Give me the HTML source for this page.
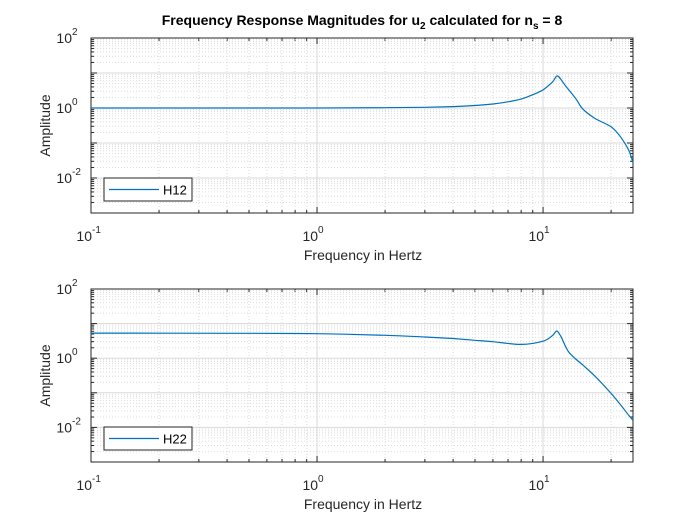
<!DOCTYPE html>
<html><head><meta charset="utf-8"><style>
body{margin:0;background:#fff;width:700px;height:525px;overflow:hidden}
svg{font-family:"Liberation Sans",sans-serif}
</style></head><body>
<svg id="c" width="700" height="525"></svg>
<script>
const freqH12=[0.1,1,2,3,4,5,6,7,8,9,10,11,11.6,12.5,14,15,17,20,22,24,25];
const ampH12=[1.0,1.0,1.02,1.05,1.1,1.18,1.3,1.5,1.8,2.4,3.3,5.5,8.2,4.5,1.8,0.93,0.5,0.29,0.15,0.06,0.027];
const freqH22=[0.1,0.5,1,2,3,4,5,6,8,10,11,11.5,12,13,15,17,20,22,24,25];
const ampH22=[5.3,5.25,5.1,4.6,4.1,3.7,3.3,3.0,2.5,3.1,4.5,6.1,4.2,1.5,0.63,0.3,0.096,0.045,0.022,0.016];
const xTicks=[0.1,1,10];
const xTickLabels=['10','10','10'];
const xTickExp=['-1','0','1'];
const yTicks=[0.01,1,100];
const yTickLabels=['10','10','10'];
const yTickExp=['-2','0','2'];
const NS='http://www.w3.org/2000/svg';
const svg=document.getElementById('c');
function el(t,a,p){const e=document.createElementNS(NS,t);for(const k in a)e.setAttribute(k,a[k]);(p||svg).appendChild(e);return e;}
const L=91,R=633,xmin=0.1,xmax=25;
function xs(v){return L+(Math.log10(v)-Math.log10(xmin))/(Math.log10(xmax)-Math.log10(xmin))*(R-L);}
function smooth(pts){let d='M'+pts[0][0].toFixed(1)+','+pts[0][1].toFixed(1);
  for(let i=0;i<pts.length-1;i++){const p0=pts[Math.max(0,i-1)],p1=pts[i],p2=pts[i+1],p3=pts[Math.min(pts.length-1,i+2)];
    const t=(i+1===pts.length-1||i===0)?0.12:0.16;
    const c1=[p1[0]+(p2[0]-p0[0])*t,p1[1]+(p2[1]-p0[1])*t],c2=[p2[0]-(p3[0]-p1[0])*t,p2[1]-(p3[1]-p1[1])*t];
    d+='C'+c1.map(v=>v.toFixed(1)).join(',')+' '+c2.map(v=>v.toFixed(1)).join(',')+' '+p2[0].toFixed(1)+','+p2[1].toFixed(1);}
  return d;}
function panel(top,bot,fx,fy,name,pname){
  const g=el('g',{});
  
  
  const ys=v=>bot-(Math.log10(v)+3)/5*(bot-top);
  for(let d=-1;d<=1;d++)for(let m=2;m<=9;m++){const v=m*Math.pow(10,d);if(v>xmax)break;const x=xs(v);
    el('line',{x1:x,x2:x,y1:top,y2:bot,stroke:'#dcdcdc','stroke-dasharray':'1,2'},g);
    el('line',{x1:x,x2:x,y1:bot,y2:bot-3,stroke:'#262626'},g);el('line',{x1:x,x2:x,y1:top,y2:top+3,stroke:'#262626'},g);}
  for(let d=-3;d<2;d++)for(let m=2;m<=9;m++){const y=ys(m*Math.pow(10,d));
    el('line',{x1:L,x2:R,y1:y,y2:y,stroke:'#dcdcdc','stroke-dasharray':'1,2'},g);
    el('line',{x1:L,x2:L+3,y1:y,y2:y,stroke:'#262626'},g);el('line',{x1:R,x2:R-3,y1:y,y2:y,stroke:'#262626'},g);}
  for(let d=-3;d<=2;d++){const y=ys(Math.pow(10,d));el('line',{x1:L,x2:R,y1:y,y2:y,stroke:'#d9d9d9'},g);
    el('line',{x1:L,x2:L+6,y1:y,y2:y,stroke:'#262626'},g);el('line',{x1:R,x2:R-6,y1:y,y2:y,stroke:'#262626'},g);}
  xTicks.forEach((v,i)=>{const x=xs(v);el('line',{x1:x,x2:x,y1:top,y2:bot,stroke:'#d9d9d9'},g);
    el('line',{x1:x,x2:x,y1:bot,y2:bot-6,stroke:'#262626'},g);el('line',{x1:x,x2:x,y1:top,y2:top+6,stroke:'#262626'},g);
    const t=el('text',{x:x+1,y:bot+28,'font-size':14,fill:'#262626','text-anchor':'end'},g);t.textContent=xTickLabels[i];
    const s=el('text',{x:x+1,y:bot+20,'font-size':10,fill:'#262626','text-anchor':'start'},g);s.textContent=xTickExp[i];});
  yTicks.forEach((v,i)=>{const y=ys(v);
    const t=el('text',{x:L-19,y:y+5,'font-size':14,fill:'#262626','text-anchor':'end'},g);t.textContent=yTickLabels[i];
    const s=el('text',{x:L-19,y:y-3,'font-size':10,fill:'#262626','text-anchor':'start'},g);s.textContent=yTickExp[i];});
  el('rect',{x:L,y:top,width:R-L,height:bot-top,fill:'none',stroke:'#262626'},g);
  const pts=fx.map((f,i)=>[xs(f),ys(fy[i])]);
  const p=el('path',{d:smooth(pts),fill:'none',stroke:'#0072bd','stroke-width':1.2},g);
  
  
  const xl=el('text',{x:(L+R)/2+1,y:bot+47,'font-size':14,fill:'#262626','text-anchor':'middle'},g);xl.textContent='Frequency in Hertz';
  
  const yl=el('text',{transform:`translate(50,${(top+bot)/2}) rotate(-90)`,'font-size':14,fill:'#262626','text-anchor':'middle'},g);yl.textContent='Amplitude';
  
  const lg=el('g',{},g);
  
  el('rect',{x:104,y:bot-35,width:88,height:23,fill:'#fff',stroke:'#262626'},lg);
  el('line',{x1:109,x2:159,y1:bot-23.5,y2:bot-23.5,stroke:'#0072bd','stroke-width':1.2},lg);
  const lt=el('text',{x:163,y:bot-18.5,'font-size':13,fill:'#000'},lg);lt.textContent=name;
}
panel(38,213,freqH12,ampH12,'H12','top-panel');
panel(289,462,freqH22,ampH22,'H22','bottom-panel');
const ti=el('text',{x:362,y:25,'font-size':14,'font-weight':'bold','text-anchor':'middle',fill:'#000'});

ti.innerHTML='Frequency Response Magnitudes for u<tspan dy="4" font-size="10">2</tspan><tspan dy="-4"> calculated for n</tspan><tspan dy="4" font-size="10">s</tspan><tspan dy="-4"> = 8</tspan>';
</script>
</body></html>
